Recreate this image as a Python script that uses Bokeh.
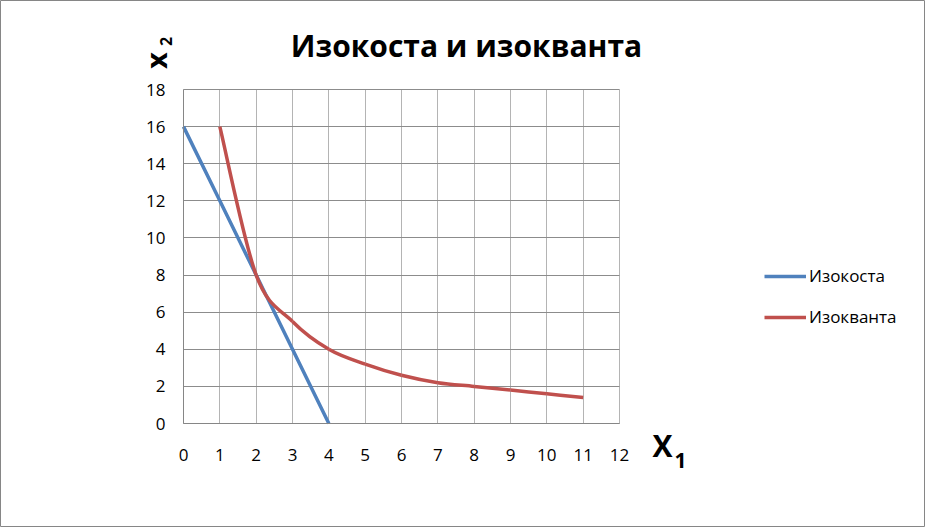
import math
from bokeh.plotting import figure
from bokeh.models import Range1d, FixedTicker, Label, Legend, LegendItem, ColumnDataSource
from bokeh.embed import file_html
from bokeh.resources import INLINE

# ---- data ----
isocost_x = [0, 1, 2, 3, 4]
isocost_y = [16, 12, 8, 4, 0]
isoquant_x = [1, 2, 3, 4, 5, 6, 7, 8, 9, 10, 11]
isoquant_y = [16, 8, 5.5, 4, 3.2, 2.6, 2.2, 2.0, 1.8, 1.6, 1.4]
x_ticks = list(range(0, 13))
y_ticks = list(range(0, 19, 2))
title_text = "Изокоста и изокванта"
series_names = ["Изокоста", "Изокванта"]

BLUE = "#4F81BD"
RED = "#C0504D"
FONT = "Open Sans"

W, H = 925, 527
# plot area in canvas pixels (from top-left)
PL, PR, PT, PB = 183, 619, 89, 423
XMIN, XMAX = x_ticks[0], x_ticks[-1]
YMIN, YMAX = y_ticks[0], y_ticks[-1]
sx = (PR - PL) / (XMAX - XMIN)
sy = (PB - PT) / (YMAX - YMIN)
x_start = XMIN - PL / sx
x_end = x_start + W / sx
y_start = YMIN - (H - PB) / sy
y_end = y_start + H / sy

p = figure(width=W, height=H, output_backend="svg", toolbar_location=None,
           x_range=Range1d(x_start, x_end), y_range=Range1d(y_start, y_end),
           min_border=0)
p.outline_line_color = "#868686"
p.outline_line_width = 1
p.background_fill_color = "white"
p.border_fill_color = "white"

xa = p.xaxis[0]
ya = p.yaxis[0]
xa.fixed_location = YMIN
ya.fixed_location = XMIN
xa.bounds = (XMIN, XMAX)
ya.bounds = (YMIN, YMAX)
for ax in (xa, ya):
    ax.axis_line_color = "#868686"
    ax.major_tick_in = 0
    ax.major_tick_out = 0
    ax.minor_tick_in = 0
    ax.minor_tick_out = 0
    ax.major_label_text_font = FONT
    ax.major_label_text_font_size = "17px"
    ax.major_label_text_color = "#000000"
xa.ticker = FixedTicker(ticks=x_ticks)
ya.ticker = FixedTicker(ticks=y_ticks)
xa.major_label_standoff = 25
ya.major_label_standoff = 18

xg = p.xgrid[0]
yg = p.ygrid[0]
xg.ticker = FixedTicker(ticks=x_ticks)
yg.ticker = FixedTicker(ticks=y_ticks)
xg.bounds = (XMIN, XMAX)
yg.bounds = (YMIN, YMAX)
xg.grid_line_color = "#B4B4B4"
yg.grid_line_color = "#8C8C8C"
if "cross_bounds" in xg.properties():
    xg.cross_bounds = (YMIN, YMAX)
    yg.cross_bounds = (XMIN, XMAX)
else:
    xg.visible = False
    yg.visible = False
    p.segment(x0=x_ticks, y0=[YMIN] * len(x_ticks), x1=x_ticks, y1=[YMAX] * len(x_ticks),
              line_color="#B4B4B4", line_width=1)
    p.segment(x0=[XMIN] * len(y_ticks), y0=y_ticks, x1=[XMAX] * len(y_ticks), y1=y_ticks,
              line_color="#8C8C8C", line_width=1)

# isocost
r1 = p.line(isocost_x, isocost_y, line_color=BLUE, line_width=3.5)

# isoquant: smoothed (Catmull-Rom style bezier through the data points)
n = len(isoquant_x)
x0s, y0s, x1s, y1s, cx0, cy0, cx1, cy1 = [], [], [], [], [], [], [], []
for i in range(n - 1):
    pm = max(i - 1, 0)
    pp = min(i + 2, n - 1)
    xa_, ya_ = isoquant_x[i], isoquant_y[i]
    xb_, yb_ = isoquant_x[i + 1], isoquant_y[i + 1]
    x0s.append(xa_); y0s.append(ya_); x1s.append(xb_); y1s.append(yb_)
    cx0.append(xa_ + (xb_ - isoquant_x[pm]) / 6.0)
    cy0.append(ya_ + (yb_ - isoquant_y[pm]) / 6.0)
    cx1.append(xb_ - (isoquant_x[pp] - xa_) / 6.0)
    cy1.append(yb_ - (isoquant_y[pp] - ya_) / 6.0)
src = ColumnDataSource(dict(x0=x0s, y0=y0s, x1=x1s, y1=y1s,
                            cx0=cx0, cy0=cy0, cx1=cx1, cy1=cy1))
r2 = p.bezier(x0="x0", y0="y0", x1="x1", y1="y1", cx0="cx0", cy0="cy0",
              cx1="cx1", cy1="cy1", source=src, line_color=RED, line_width=3.5)

legend = Legend(items=[LegendItem(label=series_names[0], renderers=[r1]),
                       LegendItem(label=series_names[1], renderers=[r2])],
                location=(764, 199), glyph_width=42, glyph_height=20,
                label_height=20, label_standoff=3, spacing=18, padding=0, margin=0,
                label_text_font=FONT, label_text_font_size="17px",
                label_text_color="#000000",
                border_line_alpha=0, background_fill_alpha=0)
p.add_layout(legend, "center")

# texts (screen units: x from left, y up from bottom of canvas)
def add_text(x, y_top, text, size, angle=0.0, bold=True):
    p.add_layout(Label(x=x, y=H - y_top, x_units="screen", y_units="screen",
                       text=text, text_font=FONT,
                       text_font_style="bold" if bold else "normal",
                       text_font_size=size, text_color="#000000", angle=angle,
                       text_align="center", text_baseline="middle"))

add_text(466, 45, title_text, "30px")
add_text(155, 60, "x", "29px", angle=math.pi / 2)
add_text(165, 41, "2", "16px", angle=math.pi / 2)
add_text(662, 445, "X", "30px")
add_text(680, 460, "1", "21px")

open("out.html", "w").write(file_html(p, INLINE))
